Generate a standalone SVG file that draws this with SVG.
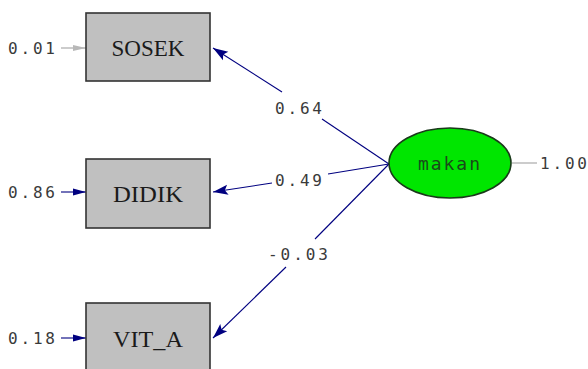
<svg xmlns="http://www.w3.org/2000/svg" width="588" height="369" viewBox="0 0 588 369">
<style>
.box{fill:#c0c0c0;stroke:#333333;stroke-width:1.6}
.lbl{font-family:"Liberation Serif","DejaVu Serif",serif;font-size:24px;fill:#1a1a1a;text-anchor:middle}
.num{font-family:"DejaVu Sans Mono","Liberation Mono",monospace;font-size:16px;fill:#3a3a3a}
.path{stroke:#000080;stroke-width:1.1;fill:none}
.grey{stroke:#b0b0b0;stroke-width:1.3;fill:none}
</style>
<defs>
<marker id="ah" markerUnits="userSpaceOnUse" markerWidth="17" markerHeight="12" refX="15" refY="6" orient="auto">
<path d="M0,1 L15,6 L0,11 L3,6 Z" fill="#000080"/>
</marker>
<marker id="ahs" markerUnits="userSpaceOnUse" markerWidth="14" markerHeight="10" refX="13" refY="5" orient="auto">
<path d="M0,1.5 L13,5 L0,8.5 Z" fill="#000080"/>
</marker>
<marker id="ahg" markerUnits="userSpaceOnUse" markerWidth="14" markerHeight="10" refX="13" refY="5" orient="auto">
<path d="M0,2 L13,5 L0,8 Z" fill="#b8b8b8"/>
</marker>
</defs>
<g id="connectors">
<line class="path" x1="282" y1="92" x2="213" y2="48" marker-end="url(#ah)"/>
<line class="path" x1="389" y1="164" x2="322" y2="119"/>
<line class="path" x1="272" y1="183" x2="213" y2="192" marker-end="url(#ah)"/>
<line class="path" x1="389" y1="164" x2="328" y2="174"/>
<line class="path" x1="286" y1="267" x2="213" y2="338" marker-end="url(#ah)"/>
<line class="path" x1="389" y1="164" x2="315" y2="239"/>
<text class="num" x="275" y="114" textLength="47" lengthAdjust="spacing">0.64</text>
<text class="num" x="275" y="186" textLength="47" lengthAdjust="spacing">0.49</text>
<text class="num" x="268" y="260" textLength="60" lengthAdjust="spacing">-0.03</text>
<line class="grey" x1="61" y1="48" x2="86" y2="48" marker-end="url(#ahg)"/>
<line class="path" x1="61" y1="192" x2="86" y2="192" stroke-width="1.6" marker-end="url(#ahs)"/>
<line class="path" x1="61" y1="338" x2="86" y2="338" stroke-width="1.6" marker-end="url(#ahs)"/>
<line class="grey" x1="512" y1="163" x2="537" y2="163"/>
</g>
<g id="SOSEK">
<rect class="box" x="86" y="13" width="124" height="68"/>
<text class="lbl" x="148" y="56" textLength="73" lengthAdjust="spacingAndGlyphs">SOSEK</text>
<text class="num" x="8" y="54" textLength="47" lengthAdjust="spacing">0.01</text>
</g>
<g id="DIDIK">
<rect class="box" x="86" y="159" width="124" height="69"/>
<text class="lbl" x="148" y="202" textLength="70" lengthAdjust="spacingAndGlyphs">DIDIK</text>
<text class="num" x="8" y="198" textLength="47" lengthAdjust="spacing">0.86</text>
</g>
<g id="VIT_A">
<rect class="box" x="86" y="303" width="124" height="68"/>
<text class="lbl" x="148" y="347" textLength="70" lengthAdjust="spacingAndGlyphs">VIT_A</text>
<text class="num" x="8" y="344" textLength="47" lengthAdjust="spacing">0.18</text>
</g>
<g id="makan">
<ellipse cx="450" cy="163" rx="61" ry="35" fill="#00e600" stroke="#1a3a1a" stroke-width="1.6"/>
<text x="418" y="170" font-family="DejaVu Sans Mono,Liberation Mono,monospace" font-size="18" fill="#1a4a1a" textLength="62" lengthAdjust="spacing">makan</text>
<text class="num" x="540" y="169" textLength="47" lengthAdjust="spacing">1.00</text>
</g>
</svg>
